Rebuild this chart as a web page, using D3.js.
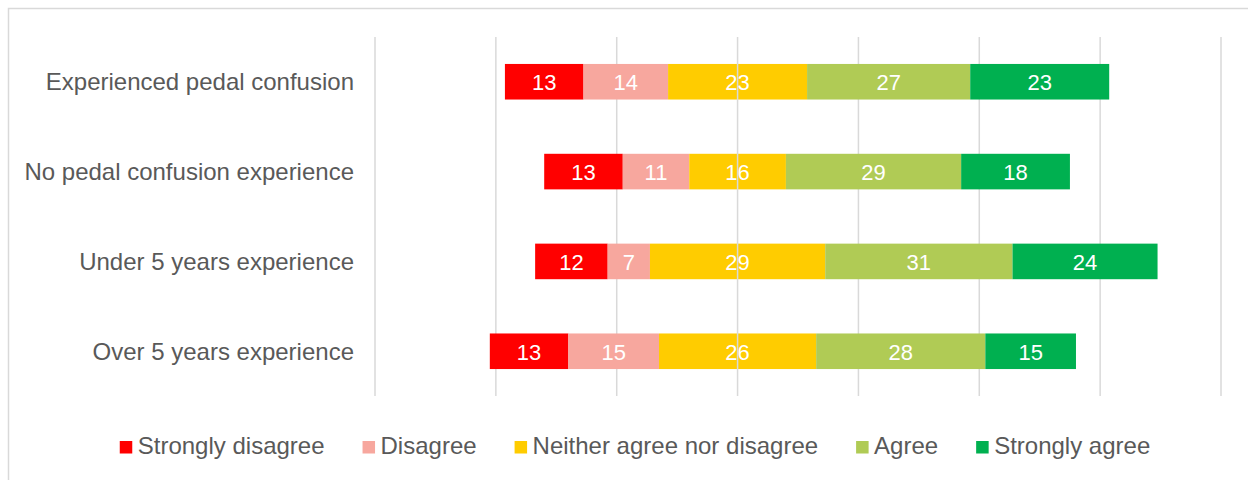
<!DOCTYPE html>
<html>
<head>
<meta charset="utf-8">
<script src="https://cdn.jsdelivr.net/npm/d3@7"></script>
<style>
  html, body { margin: 0; padding: 0; background: #ffffff; }
  svg { display: block; font-family: "Liberation Sans", Arial, sans-serif; }
</style>
</head>
<body>
<svg id="chart" width="1248" height="480"></svg>
<script>
// Survey groups (rows, top to bottom)
const categories = [
  "Experienced pedal confusion",
  "No pedal confusion experience",
  "Under 5 years experience",
  "Over 5 years experience"
];

// Response shares per group (%)
const stronglyDisagree = [13, 13, 12, 13];
const disagree         = [14, 11, 7, 15];
const neutral          = [23, 16, 29, 26];
const agree            = [27, 29, 31, 28];
const stronglyAgree    = [23, 18, 24, 15];

const seriesNames = [
  "Strongly disagree",
  "Disagree",
  "Neither agree nor disagree",
  "Agree",
  "Strongly agree"
];
const seriesColors = ["#ff0000", "#f7a79e", "#ffcc00", "#b0cb55", "#00b050"];

// Vertical gridline positions on the value axis
const gridTicks = [-60, -40, -20, 0, 20, 40, 60, 80];

const svg = d3.select("#chart");

// Chart frame
svg.append("rect")
  .attr("x", 8.5).attr("y", 8.5)
  .attr("width", 1300).attr("height", 520)
  .attr("fill", "#ffffff")
  .attr("stroke", "#d9d9d9")
  .attr("stroke-width", 1.5);

const x = d3.scaleLinear().domain([-60, 80]).range([375, 1221]);
const y = d3.scaleBand()
  .domain(categories)
  .range([37, 396])
  .paddingInner(0.604)
  .paddingOuter(0.3);

// Gridlines (behind bars)
svg.append("g")
  .selectAll("line")
  .data(gridTicks.filter(t => t !== 0))
  .join("line")
  .attr("x1", d => x(d)).attr("x2", d => x(d))
  .attr("y1", 37).attr("y2", 396)
  .attr("stroke", "#d9d9d9")
  .attr("stroke-width", 1.5);

// Build diverging segments: neutral centred on zero
const seriesValues = [stronglyDisagree, disagree, neutral, agree, stronglyAgree];
const segments = [];
categories.forEach((cat, i) => {
  let start = -(neutral[i] / 2 + disagree[i] + stronglyDisagree[i]);
  seriesValues.forEach((vals, s) => {
    const v = vals[i];
    segments.push({ cat, s, v, x0: start, x1: start + v });
    start += v;
  });
});

const bars = svg.append("g");
bars.selectAll("rect")
  .data(segments)
  .join("rect")
  .attr("x", d => x(d.x0))
  .attr("width", d => x(d.x1) - x(d.x0))
  .attr("y", d => y(d.cat))
  .attr("height", y.bandwidth())
  .attr("fill", d => seriesColors[d.s]);

// Zero line drawn over the bars
svg.append("line")
  .attr("x1", x(0)).attr("x2", x(0))
  .attr("y1", 37).attr("y2", 396)
  .attr("stroke", "#d9d9d9")
  .attr("stroke-width", 1.5);

// Value labels
bars.selectAll("text")
  .data(segments)
  .join("text")
  .attr("x", d => (x(d.x0) + x(d.x1)) / 2)
  .attr("y", d => y(d.cat) + y.bandwidth() / 2 + 1)
  .attr("text-anchor", "middle")
  .attr("dominant-baseline", "central")
  .attr("fill", "#ffffff")
  .attr("font-size", 22)
  .text(d => d.v);

// Category labels
svg.append("g")
  .selectAll("text")
  .data(categories)
  .join("text")
  .attr("x", 354)
  .attr("y", d => y(d) + y.bandwidth() / 2)
  .attr("text-anchor", "end")
  .attr("dominant-baseline", "central")
  .attr("fill", "#595959")
  .attr("font-size", 24)
  .text(d => d);

// Legend, centred under the plot
const legend = svg.append("g");
const items = legend.selectAll("g")
  .data(seriesNames)
  .join("g");
items.append("rect")
  .attr("width", 12.5).attr("height", 12.5)
  .attr("y", 441)
  .attr("fill", (d, i) => seriesColors[i]);
items.append("text")
  .attr("x", 18)
  .attr("y", 454)
  .attr("fill", "#595959")
  .attr("font-size", 24)
  .text(d => d);

const widths = [];
items.each(function () {
  widths.push(18 + d3.select(this).select("text").node().getComputedTextLength());
});
const gap = 38;
const total = d3.sum(widths) + gap * (widths.length - 1);
let cursor = 635 - total / 2;
items.each(function (d, i) {
  d3.select(this).attr("transform", `translate(${cursor},0)`);
  cursor += widths[i] + gap;
});
</script>
</body>
</html>
